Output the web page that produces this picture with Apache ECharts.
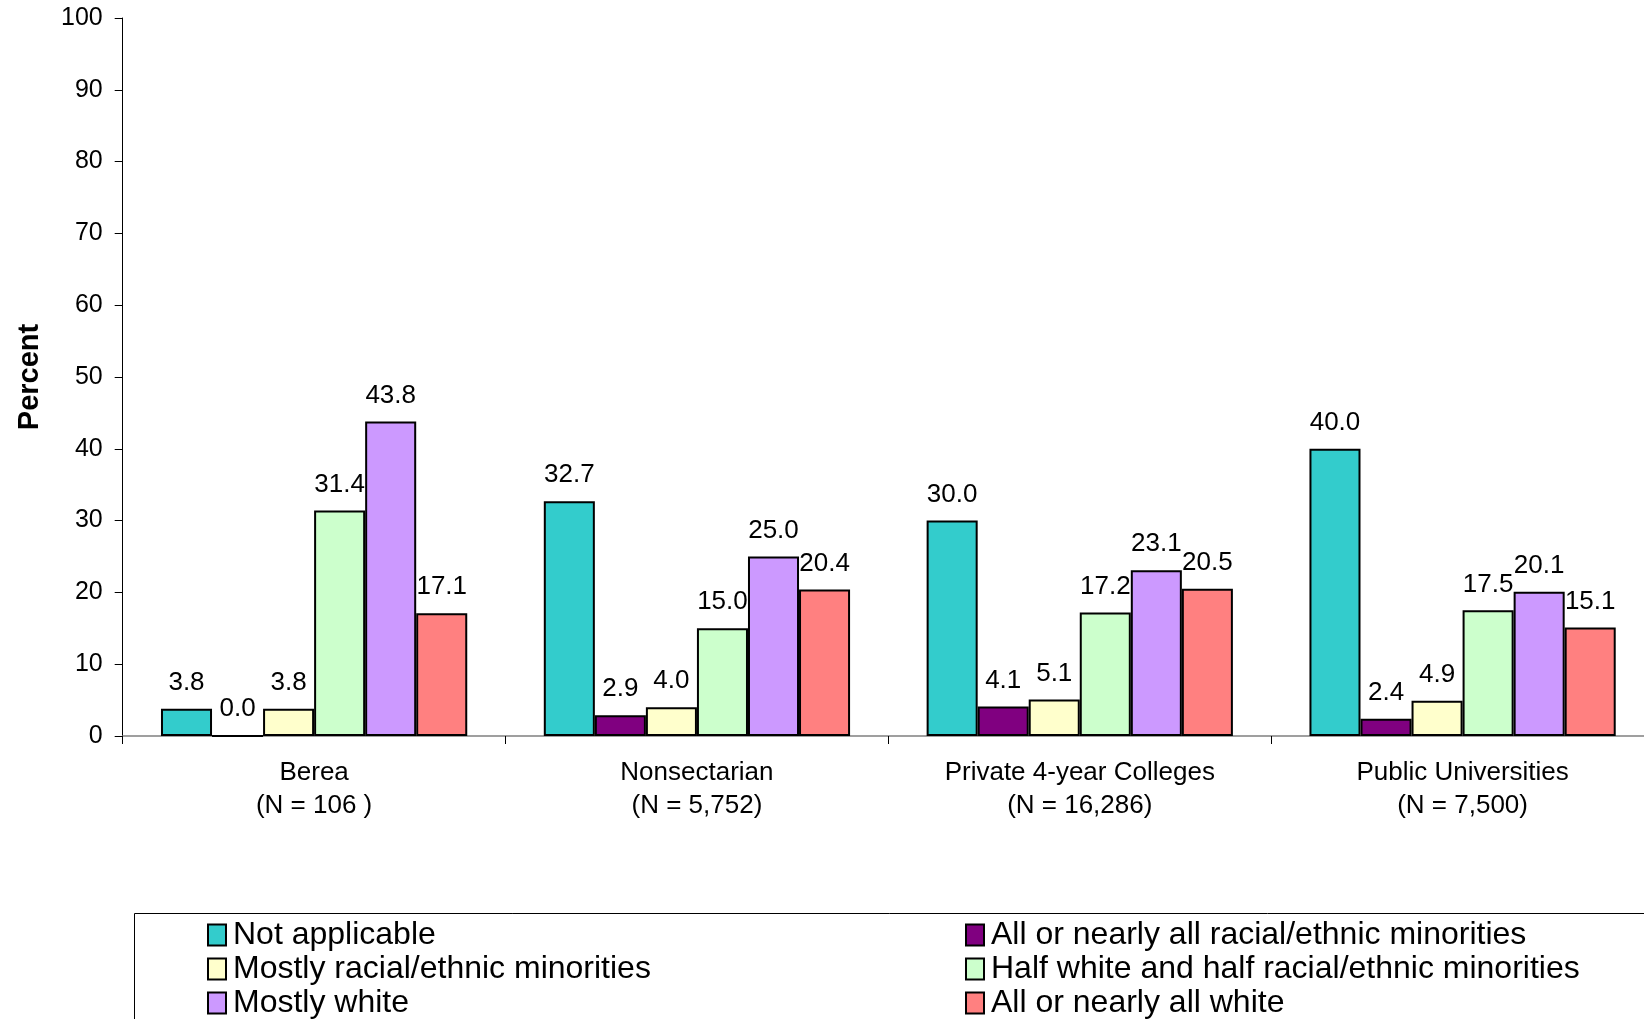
<!DOCTYPE html>
<html>
<head>
<meta charset="utf-8">
<script src="https://cdn.jsdelivr.net/npm/echarts@6/dist/echarts.min.js"></script>
<style>
  html, body { margin: 0; padding: 0; background: #fff; }
  #chart { width: 1644px; height: 1019px; }
</style>
</head>
<body>
<div id="chart"></div>
<script>
var categories = ['Berea\n(N = 106 )', 'Nonsectarian\n(N = 5,752)', 'Private 4-year Colleges\n(N = 16,286)', 'Public Universities\n(N = 7,500)']
var seriesNames = [
  'Not applicable',
  'All or nearly all racial/ethnic minorities',
  'Mostly racial/ethnic minorities',
  'Half white and half racial/ethnic minorities',
  'Mostly white',
  'All or nearly all white'
]
var notApplicable = [3.8, 32.7, 30.0, 40.0]
var allMinorities = [0.0, 2.9, 4.1, 2.4]
var mostlyMinorities = [3.8, 4.0, 5.1, 4.9]
var halfHalf = [31.4, 15.0, 17.2, 17.5]
var mostlyWhite = [43.8, 25.0, 23.1, 20.1]
var allWhite = [17.1, 20.4, 20.5, 15.1]
var yTicks = [0, 10, 20, 30, 40, 50, 60, 70, 80, 90, 100]

var colors = ['#33CCCC', '#800080', '#FFFFCC', '#CCFFCC', '#CC99FF', '#FF8080']
var values = [notApplicable, allMinorities, mostlyMinorities, halfHalf, mostlyWhite, allWhite]
var font = '"Liberation Sans", Arial, sans-serif'

var myChart = echarts.init(document.getElementById('chart'))

var series = []
for (var i = 0; i < seriesNames.length; i++) {
  series.push({
    name: seriesNames[i],
    type: 'bar',
    data: values[i],
    barGap: '0%',
    barCategoryGap: '20%',
    itemStyle: {
      color: colors[i],
      borderColor: '#000',
      borderWidth: 2
    },
    label: {
      show: true,
      position: 'top',
      distance: 13,
      color: '#000',
      fontFamily: font,
      fontSize: 26,
      formatter: function (p) { return p.value.toFixed(1) }
    }
  })
}

// two vertical legends so the second column lines up
var legendCommon = {
  orient: 'vertical',
  top: 918,
  height: 150,
  padding: 0,
  itemGap: 0,
  itemWidth: 18,
  itemHeight: 21,
  icon: 'rect',
  textStyle: {
    fontFamily: font,
    fontSize: 32,
    color: '#000',
    lineHeight: 34,
    padding: [0, 0, 0, 2]
  },
  itemStyle: { borderColor: '#000', borderWidth: 2 }
}

var option = {
  animation: false,
  backgroundColor: '#fff',
  color: colors,
  grid: {
    left: 122.7,
    top: 18,
    bottom: 283,
    right: -10,
    containLabel: false,
    outerBoundsMode: 'none'
  },
  legend: [
    Object.assign({}, legendCommon, { left: 207, data: [seriesNames[0], seriesNames[2], seriesNames[4]] }),
    Object.assign({}, legendCommon, { left: 965, data: [seriesNames[1], seriesNames[3], seriesNames[5]] })
  ],
  graphic: [{
    type: 'rect',
    left: 132,
    top: 911,
    shape: { width: 1540, height: 130 },
    style: { fill: 'none', stroke: '#000', lineWidth: 1 },
    z: -1
  }],
  xAxis: {
    type: 'category',
    data: categories,
    axisLine: { lineStyle: { color: '#808080', width: 1.5 } },
    axisTick: { show: true, length: 8, lineStyle: { color: '#000' } },
    axisLabel: {
      color: '#000',
      fontFamily: font,
      fontSize: 26,
      lineHeight: 33,
      margin: 20
    }
  },
  yAxis: {
    type: 'value',
    min: yTicks[0],
    max: yTicks[yTicks.length - 1],
    interval: 10,
    name: 'Percent',
    nameLocation: 'middle',
    nameRotate: 90,
    nameGap: 78,
    nameTextStyle: {
      fontFamily: font,
      fontSize: 29,
      fontWeight: 'bold',
      color: '#000'
    },
    axisLine: { show: true, lineStyle: { color: '#000', width: 1 } },
    axisTick: { show: true, length: 8, lineStyle: { color: '#000' } },
    splitLine: { show: false },
    axisLabel: {
      color: '#000',
      fontFamily: font,
      fontSize: 25,
      margin: 20
    }
  },
  series: series
}

myChart.setOption(option)
</script>
</body>
</html>
